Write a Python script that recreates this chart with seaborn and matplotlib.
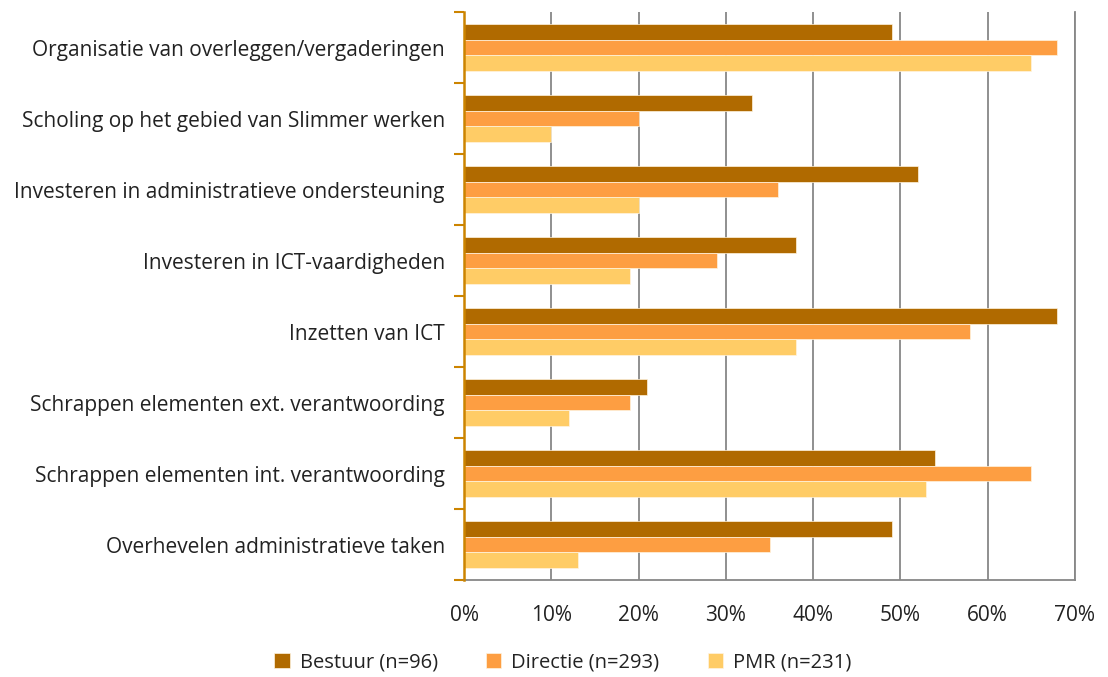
import numpy as np
import pandas as pd
import matplotlib
matplotlib.use("Agg")
import matplotlib.pyplot as plt
import seaborn as sns
from matplotlib.ticker import FixedLocator, PercentFormatter

categorieen = [
    "Organisatie van overleggen/vergaderingen",
    "Scholing op het gebied van Slimmer werken",
    "Investeren in administratieve ondersteuning",
    "Investeren in ICT-vaardigheden",
    "Inzetten van ICT",
    "Schrappen elementen ext. verantwoording",
    "Schrappen elementen int. verantwoording",
    "Overhevelen administratieve taken",
]
groepen = ["Bestuur (n=96)", "Directie (n=293)", "PMR (n=231)"]
bestuur = [49, 33, 52, 38, 68, 21, 54, 49]
directie = [68, 20, 36, 29, 58, 19, 65, 35]
pmr = [65, 10, 20, 19, 38, 12, 53, 13]
kleuren = ["#B06A00", "#FD9E42", "#FFCC66"]

df = pd.DataFrame({
    "Categorie": categorieen * 3,
    "Groep": np.repeat(groepen, len(categorieen)),
    "Waarde": bestuur + directie + pmr,
})

sns.set_style("white")
plt.rcParams["font.family"] = ["Open Sans", "DejaVu Sans"]

fig, ax = plt.subplots(figsize=(11.08, 6.77), dpi=100)
fig.subplots_adjust(left=0.419, right=0.970, top=0.982, bottom=0.143)

sns.barplot(data=df, y="Categorie", x="Waarde", hue="Groep", order=categorieen,
            hue_order=groepen, palette=kleuren, saturation=1, width=0.66, orient="h",
            edgecolor="#FFF4E0", linewidth=0.5, ax=ax, zorder=3)

ax.set_xlim(0, 70)
ax.set_ylim(len(categorieen) - 0.5, -0.5)
ax.set_xticks(range(0, 71, 10))
ax.xaxis.set_major_formatter(PercentFormatter(decimals=0))
ax.grid(axis="x", color="#878787", linewidth=1.3, zorder=0)
ax.set_xlabel("")
ax.set_ylabel("")

ax.tick_params(axis="x", length=0, pad=18, labelsize=15, colors="#222222")
ax.tick_params(axis="y", which="major", length=0, pad=14, labelsize=15, colors="#222222")
ax.yaxis.set_minor_locator(FixedLocator(np.arange(-0.5, len(categorieen), 1)))
ax.tick_params(axis="y", which="minor", left=True, length=7, width=1.5,
               color="#CC8400", direction="out")

ax.spines["top"].set_visible(False)
ax.spines["right"].set_color("#878787")
ax.spines["right"].set_linewidth(1.3)
ax.spines["bottom"].set_color("#878787")
ax.spines["bottom"].set_linewidth(1.3)
ax.spines["left"].set_color("#CC8400")
ax.spines["left"].set_linewidth(1.8)
ax.spines["left"].set_zorder(5)

handles, labels = ax.get_legend_handles_labels()
ax.get_legend().remove()
leg = fig.legend(handles, labels, loc="center", bbox_to_anchor=(0.508, 0.021), ncol=3,
                 frameon=False, fontsize=14.5, handlelength=0.75, handleheight=0.75,
                 columnspacing=2.4, handletextpad=0.5)
for t in leg.get_texts():
    t.set_color("#222222")

plt.savefig("out.png", dpi=100)
plt.close()
